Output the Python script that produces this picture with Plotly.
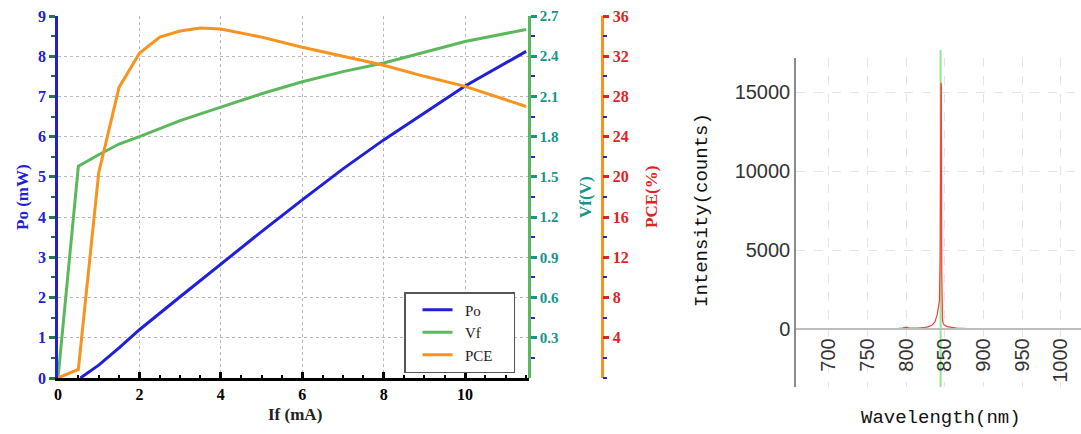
import plotly.graph_objects as go

# ---------------- Left chart data ----------------
if_po = [0.55, 1.0, 1.5, 2.0, 3.0, 4.0, 5.0, 6.0, 7.0, 8.0, 9.0, 10.0, 11.5]
po = [0.0, 0.32, 0.75, 1.2, 2.02, 2.84, 3.64, 4.43, 5.2, 5.92, 6.6, 7.26, 8.12]

if_vf = [0.0, 0.5, 1.0, 1.5, 2.0, 3.0, 4.0, 5.0, 6.0, 7.0, 8.0, 9.0, 10.0, 11.5]
vf = [0.0, 1.58, 1.665, 1.745, 1.80, 1.92, 2.02, 2.12, 2.21, 2.285, 2.35, 2.43, 2.51, 2.60]

if_pce = [0.0, 0.5, 1.0, 1.5, 2.0, 2.5, 3.0, 3.5, 4.0, 5.0, 6.0, 7.0, 8.0, 9.0, 10.0, 11.5]
pce = [0.0, 0.86, 20.4, 28.9, 32.3, 33.9, 34.5, 34.8, 34.7, 33.9, 32.9, 32.0, 31.1, 30.0, 29.0, 27.0]

series_names = ["Po", "Vf", "PCE"]
po_ticks = [0, 1, 2, 3, 4, 5, 6, 7, 8, 9]
vf_ticks = [0.3, 0.6, 0.9, 1.2, 1.5, 1.8, 2.1, 2.4, 2.7]
vf_ticktext = ["0.3", "0.6", "0.9", "1.2", "1.5", "1.8", "2.1", "2.4", "2.7"]
pce_ticks = [4, 8, 12, 16, 20, 24, 28, 32, 36]
if_ticks = [0, 2, 4, 6, 8, 10]

# ---------------- Right chart data ----------------
wavelength = [657, 680, 700, 720, 740, 760, 780, 790, 795, 800, 803, 808, 815, 822,
              828, 833, 837, 840, 842, 843, 844, 844.5, 845, 845.5, 846, 846.5, 847,
              848, 850, 853, 858, 865, 880, 900, 930, 960, 1000, 1026]
intensity = [5, 8, 10, 15, 20, 30, 50, 60, 80, 130, 90, 70, 80, 100,
             150, 250, 450, 900, 1600, 1800, 4800, 14500, 15600, 15400, 3800, 1200, 600,
             350, 250, 170, 120, 80, 50, 35, 25, 20, 15, 10]
marker_nm = [844.5]
wl_ticks = [700, 750, 800, 850, 900, 950, 1000]
int_ticks = [0, 5000, 10000, 15000]
int_ticktext = ["0", "5000", "10000", "15000"]

W, H = 1081, 434
def px(x):
    return x / W
def py(y):
    return 1 - y / H

BLUE = "#2020d8"
GREEN = "#5cb85c"
ORANGE = "#f7931e"
TEAL = "#16948a"
RED = "#e32222"
SERIF = "Liberation Serif"

def legend_label(s):
    return "&nbsp;&nbsp;" + s + "&nbsp;" * 4

fig = go.Figure()
fig.add_trace(go.Scatter(x=if_po, y=po, mode="lines", name=legend_label(series_names[0]),
                         line=dict(color=BLUE, width=3), xaxis="x", yaxis="y"))
fig.add_trace(go.Scatter(x=if_vf, y=vf, mode="lines", name=legend_label(series_names[1]),
                         line=dict(color=GREEN, width=3), xaxis="x", yaxis="y2"))
fig.add_trace(go.Scatter(x=if_pce, y=pce, mode="lines", name=legend_label(series_names[2]),
                         line=dict(color=ORANGE, width=3), xaxis="x", yaxis="y3"))

fig.add_trace(go.Scatter(x=wavelength, y=intensity, mode="lines", showlegend=False,
                         line=dict(color="#ff3b3b", width=1.2), xaxis="x2", yaxis="y4"))

fig.add_shape(type="line", xref="x2", yref="paper",
              x0=marker_nm[0], x1=marker_nm[0], y0=py(387), y1=py(50),
              line=dict(color="#8fe88f", width=2), layer="below")

fig.update_layout(
    width=W, height=H,
    margin=dict(l=0, r=0, t=0, b=0, autoexpand=False),
    paper_bgcolor="white", plot_bgcolor="rgba(0,0,0,0)",
    showlegend=True,
    legend=dict(x=px(404), y=py(292), xanchor="left", yanchor="top",
                bgcolor="white", bordercolor="#555555", borderwidth=1.5,
                font=dict(family=SERIF, size=15, color="#222222"),
                tracegroupgap=0, itemwidth=30, indentation=12),
    xaxis=dict(domain=[px(58), px(529)], range=[0, 11.57], anchor="y", automargin=False,
               tickmode="array", tickvals=if_ticks,
               showline=True, linecolor="black", linewidth=2.5,
               ticks="inside", ticklen=6, tickwidth=3, tickcolor="black",
               minor=dict(tickmode="linear", tick0=0, dtick=0.5, ticks="inside",
                          ticklen=3, tickwidth=2, tickcolor="black", showgrid=False),
               showgrid=True, gridcolor="#b8b8b8", griddash="dot", gridwidth=1,
               zeroline=False,
               tickfont=dict(family=SERIF, size=16, weight="bold", color="black")),
    yaxis=dict(domain=[py(378), py(16)], range=[0, 9], anchor="x", automargin=False,
               tickmode="array", tickvals=po_ticks,
               showline=True, linecolor=BLUE, linewidth=2.5,
               ticks="outside", ticklen=6, tickwidth=2.5, tickcolor="#2a7a3a",
               minor=dict(tickmode="linear", tick0=0.5, dtick=1, ticks="outside",
                          ticklen=4, tickwidth=2, tickcolor="#2a6a3a", showgrid=False),
               showgrid=True, gridcolor="#b8b8b8", griddash="dot", gridwidth=1,
               zeroline=False,
               tickfont=dict(family=SERIF, size=16, weight="bold", color=BLUE)),
    yaxis2=dict(overlaying="y", anchor="free", position=px(529), side="right",
                automargin=False,
                range=[0, 2.7], tickmode="array", tickvals=vf_ticks, ticktext=vf_ticktext,
                showline=True, linecolor=GREEN, linewidth=2.5,
                ticks="outside", ticklen=6, tickwidth=3, tickcolor=TEAL,
                minor=dict(tickmode="linear", tick0=0.15, dtick=0.3, ticks="outside",
                           ticklen=4, tickwidth=2, tickcolor="#2a2ab0", showgrid=False),
                showgrid=False, zeroline=False,
                tickfont=dict(family=SERIF, size=15, weight="bold", color=TEAL)),
    yaxis3=dict(overlaying="y", anchor="free", position=px(601.7), side="right",
                automargin=False,
                range=[0, 36], tickmode="array", tickvals=pce_ticks,
                showline=True, linecolor=ORANGE, linewidth=2.5,
                ticks="outside", ticklen=6, tickwidth=3, tickcolor=RED,
                minor=dict(tickmode="linear", tick0=0, dtick=2, ticks="outside",
                           ticklen=4, tickwidth=2, tickcolor="#2a2ab0", showgrid=False),
                showgrid=False, zeroline=False,
                tickfont=dict(family=SERIF, size=16, weight="bold", color=RED)),
    xaxis2=dict(domain=[px(796), 1.0], range=[657.3, 1026.3], anchor="free",
                position=py(329.3), automargin=False,
                tickmode="array", tickvals=wl_ticks, tickangle=-90,
                showline=True, linecolor="#bdbdbd", linewidth=2,
                ticks="", showgrid=True, gridcolor="#e4e4e4", griddash="dash",
                gridwidth=1, zeroline=False,
                tickfont=dict(family="Liberation Sans", size=20, color="#333333")),
    yaxis4=dict(domain=[py(387), py(58)], range=[-3652, 17170], anchor="x2",
                automargin=False,
                tickmode="array", tickvals=int_ticks, ticktext=int_ticktext,
                showline=True, linecolor="#8a8a8a", linewidth=1.5,
                ticks="", showgrid=True, gridcolor="#e4e4e4", griddash="dash",
                gridwidth=1, zeroline=False,
                tickfont=dict(family="Liberation Sans", size=20, color="#333333")),
)

ann = [
    dict(text="<b>Po (mW)</b>", x=px(22), y=py(197), textangle=-90,
         font=dict(family=SERIF, size=17, color=BLUE)),
    dict(text="<b>If (mA)</b>", x=px(295), y=py(414),
         font=dict(family=SERIF, size=17, color="#222222")),
    dict(text="<b>Vf(V)</b>", x=px(585), y=py(197), textangle=-90,
         font=dict(family=SERIF, size=17, color=TEAL)),
    dict(text="<b>PCE(%)</b>", x=px(651), y=py(197), textangle=-90,
         font=dict(family=SERIF, size=17, color=RED)),
    dict(text="Intensity(counts)", x=px(702), y=py(210), textangle=-90,
         font=dict(family="Liberation Mono", size=19, color="#111111")),
    dict(text="Wavelength(nm)", x=px(941), y=py(418),
         font=dict(family="Liberation Mono", size=19, color="#111111")),
]
for a in ann:
    a.update(xref="paper", yref="paper", showarrow=False, xanchor="center", yanchor="middle")
fig.update_layout(annotations=ann)

fig.write_html("out.html", config={"displayModeBar": False},
               post_script="document.body.style.margin='0px';document.body.style.padding='0px';")
